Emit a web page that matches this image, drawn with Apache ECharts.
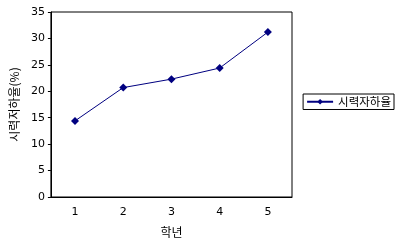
<!DOCTYPE html>
<html><head><meta charset="utf-8">
<script src="https://cdn.jsdelivr.net/npm/echarts@6/dist/echarts.min.js"></script>
<style>html,body{margin:0;padding:0;background:#fff}#c{width:415px;height:249px}</style>
</head><body><div id="c"></div>
<script>
const categories = ['1','2','3','4','5'];
const values = [14.4, 20.7, 22.3, 24.4, 31.2];
const seriesName = '시력자하율';
const xName = '학년';
const yName = '시력저하율(%)';
const font = '"Noto Sans CJK KR", "DejaVu Sans", sans-serif';
const chart = echarts.init(document.getElementById('c'), null, {renderer:'canvas'});
chart.setOption({
  animation:false,
  backgroundColor:'#fff',
  textStyle:{fontFamily:font},
  grid:{left:49, top:12, right:123, bottom:52, show:true, borderColor:'#000', borderWidth:1},
  legend:{
    data:[seriesName], right:21, top:94, orient:'vertical',
    borderColor:'#000', borderWidth:1, padding:[2,3,2,3],
    itemWidth:26, itemHeight:7, itemGap:0,
    textStyle:{fontSize:11.5, color:'#000', fontFamily:font}
  },
  xAxis:{
    type:'category', data:categories, boundaryGap:true,
    name:xName, nameLocation:'middle', nameGap:29,
    nameTextStyle:{fontSize:12, color:'#000', fontFamily:font},
    axisLine:{lineStyle:{color:'#000', width:1}},
    axisTick:{inside:true, length:3, lineStyle:{color:'#000'}},
    axisLabel:{fontSize:11, color:'#000', margin:10, fontFamily:'"DejaVu Sans", sans-serif'}
  },
  yAxis:{
    type:'value', min:0, max:35, interval:5,
    name:yName, nameLocation:'middle', nameGap:25,
    nameTextStyle:{fontSize:12, color:'#000', fontFamily:font},
    axisLine:{show:true, lineStyle:{color:'#000', width:1}},
    axisTick:{show:true, length:3, lineStyle:{color:'#000'}},
    splitLine:{show:false},
    axisLabel:{fontSize:11, color:'#000', margin:6, fontFamily:'"DejaVu Sans", sans-serif'}
  },
  series:[{
    name:seriesName, type:'line', data:values,
    symbol:'diamond', symbolSize:8,
    lineStyle:{color:'#000080', width:1},
    itemStyle:{color:'#000080'}
  }]
});
</script></body></html>
